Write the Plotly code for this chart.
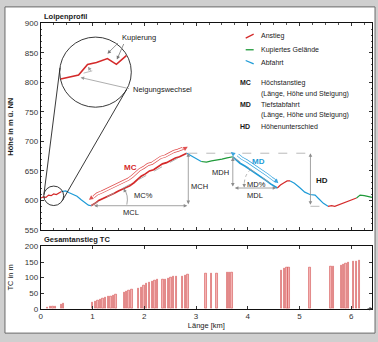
import plotly.graph_objects as go

W, H = 378, 342
FONT = "Liberation Sans, Arial, sans-serif"

# ---------------- data ----------------
profile_km = [0.00, 0.05, 0.10, 0.15, 0.20, 0.25, 0.30, 0.35, 0.40, 0.48, 0.55, 0.62, 0.70, 0.78,
              0.85, 0.92, 0.97, 1.05, 1.12, 1.20, 1.27, 1.35, 1.42, 1.50, 1.58, 1.65, 1.72, 1.80,
              1.87, 1.94, 2.02, 2.10, 2.18, 2.27, 2.35, 2.43, 2.52, 2.60, 2.68, 2.77, 2.82, 2.90,
              2.97, 3.05, 3.10, 3.20, 3.30, 3.40, 3.50, 3.60, 3.71, 3.78, 3.85, 3.95, 4.05, 4.15,
              4.25, 4.35, 4.44, 4.52, 4.57, 4.63, 4.70, 4.76, 4.82, 4.90, 5.00, 5.10, 5.20, 5.30,
              5.38, 5.46, 5.55, 5.62, 5.68, 5.74, 5.80, 5.87, 5.95, 6.02, 6.10, 6.17, 6.25, 6.32,
              6.40]
profile_m = [604, 606, 605, 609, 608, 611, 610, 613, 615, 616, 613, 610, 607, 601,
             596, 592, 591, 595, 600, 603, 606, 610, 612, 616, 619, 622, 625, 630,
             636, 641, 645, 650, 652, 657, 662, 664, 669, 672, 674, 677, 680, 676,
             672, 668, 666, 665, 667, 668, 670, 672, 674, 668, 663, 658, 652, 647,
             641, 634, 628, 623, 621, 626, 630, 633, 633, 629, 622, 614, 610, 609,
             602, 595, 590, 591, 590, 592, 595, 597, 600, 601, 604, 609, 608, 606,
             605]
seg_start_km = [0.0, 0.40, 0.97, 2.82, 3.10, 3.71, 4.57, 4.82, 5.55, 6.10]
seg_type = ["Anstieg", "Abfahrt", "Anstieg", "Abfahrt", "Kupiert",
            "Abfahrt", "Anstieg", "Abfahrt", "Anstieg", "Kupiert"]

tc_km = [0.12, 0.18, 0.23, 0.28, 0.39, 0.44,
         1.00, 1.05, 1.10, 1.15, 1.20, 1.25, 1.30, 1.35, 1.40, 1.45,
         1.61, 1.65, 1.70, 1.76,
         1.89, 1.94, 1.99, 2.04, 2.10, 2.15, 2.20, 2.25,
         2.36, 2.41, 2.46, 2.51, 2.56, 2.62,
         2.74, 2.79, 2.84,
         3.19, 3.30, 3.40,
         3.60, 3.64, 3.69,
         4.65, 4.70, 4.75, 4.79,
         5.20,
         5.60, 5.65,
         5.80, 5.85, 5.89, 5.94,
         6.04, 6.09, 6.15]
tc_m = [4, 6, 8, 9, 14, 16,
        19, 23, 26, 29, 32, 35, 38, 41, 44, 46,
        52, 55, 58, 61,
        64, 70, 76, 80, 84, 88, 91, 93,
        93, 95, 98, 101, 103, 105,
        105, 108, 111,
        113, 113, 114,
        115, 116, 118,
        124, 129, 132, 134,
        134,
        136, 137,
        140, 142, 145, 148,
        151, 152, 156]

# magnified inset (pixel units of the picture)
inset_x = [59, 77, 86, 95, 106, 115, 125]
inset_y = [77, 73, 62, 60, 56, 62, 53]

COL = {"Anstieg": "#d42a2a", "Kupiert": "#1f9a3a", "Abfahrt": "#1e9bd7"}
GRAY = "#8c8c8c"
TXT = "#1a1a1a"

fig = go.Figure()

# ---------------- profile ----------------
for i, (s, t) in enumerate(zip(seg_start_km, seg_type)):
    e = seg_start_km[i + 1] if i + 1 < len(seg_start_km) else 6.4
    xs = [k for k in profile_km if s - 1e-9 <= k <= e + 1e-9]
    ys = [profile_m[profile_km.index(k)] for k in xs]
    w = 1.7 if i in (2, 5) else 1.2
    fig.add_trace(go.Scatter(x=xs, y=ys, mode="lines", line=dict(color=COL[t], width=w),
                             xaxis="x", yaxis="y", showlegend=False, hoverinfo="skip"))

# MC band (outline arrow) following the climb
mc_x = [k for k in profile_km if 1.0 <= k <= 2.78]
mc_y = [profile_m[profile_km.index(k)] for k in mc_x]
bx = [k - 0.03 for k in mc_x]
by = [m + 11 for m in mc_y]
fig.add_trace(go.Scatter(x=bx, y=by, mode="lines", line=dict(color="#e05050", width=3.0),
                         showlegend=False, hoverinfo="skip"))
fig.add_trace(go.Scatter(x=bx, y=by, mode="lines", line=dict(color="white", width=1.7),
                         showlegend=False, hoverinfo="skip"))
# MD band
md_x = [k for k in profile_km if 3.75 <= k <= 4.52]
md_y = [profile_m[profile_km.index(k)] for k in md_x]
dx = [k + 0.03 for k in md_x]
dy = [m + 9 for m in md_y]
fig.add_trace(go.Scatter(x=dx, y=dy, mode="lines", line=dict(color="#3aa6e0", width=3.0),
                         showlegend=False, hoverinfo="skip"))
fig.add_trace(go.Scatter(x=dx, y=dy, mode="lines", line=dict(color="white", width=1.7),
                         showlegend=False, hoverinfo="skip"))

# ---------------- TC bars ----------------
fig.add_trace(go.Bar(x=tc_km, y=tc_m, width=0.026, xaxis="x2", yaxis="y2",
                     marker=dict(color="#f6b4b4", line=dict(color="#cc3a3a", width=0.5)),
                     showlegend=False, hoverinfo="skip"))

# ---------------- helpers ----------------
def px(x, y):
    return x / W, 1 - y / H

def line_px(x0, y0, x1, y1, color, width=1.0, dash="solid"):
    a, b = px(x0, y0)
    c, d = px(x1, y1)
    fig.add_shape(type="line", xref="paper", yref="paper", x0=a, y0=b, x1=c, y1=d,
                  line=dict(color=color, width=width, dash=dash))

def arrow_px(x0, y0, x1, y1, color, both=False, head=2, width=0.8, size=1.0):
    a, b = px(x1, y1)
    fig.add_annotation(xref="paper", yref="paper", x=a, y=b, axref="pixel", ayref="pixel",
                       ax=x0 - x1, ay=y0 - y1, text="", showarrow=True, arrowhead=head,
                       arrowside="end+start" if both else "end", arrowwidth=width,
                       arrowsize=size, arrowcolor=color, standoff=0, startstandoff=0)

def arrow_d(x0, y0, x1, y1, color, both=False, head=2, width=0.8, size=1.0):
    fig.add_annotation(xref="x", yref="y", x=x1, y=y1, axref="x", ayref="y", ax=x0, ay=y0,
                       text="", showarrow=True, arrowhead=head,
                       arrowside="end+start" if both else "end", arrowwidth=width,
                       arrowsize=size, arrowcolor=color, standoff=0, startstandoff=0)

def line_d(x0, y0, x1, y1, color, width=0.8, dash="dash"):
    fig.add_shape(type="line", xref="x", yref="y", x0=x0, y0=y0, x1=x1, y1=y1,
                  line=dict(color=color, width=width, dash=dash))

def text_px(x, y, s, size=7.5, color=TXT, bold=False, xanchor="center", angle=0):
    a, b = px(x, y)
    fig.add_annotation(xref="paper", yref="paper", x=a, y=b,
                       text=("<b>%s</b>" % s) if bold else s, showarrow=False,
                       font=dict(size=size, color=color, family=FONT),
                       xanchor=xanchor, yanchor="middle", textangle=angle, borderpad=0)

# background card
fig.add_shape(type="rect", xref="paper", yref="paper", x0=3 / W, y0=1 - 338 / H, x1=375 / W,
              y1=1 - 3 / H, line=dict(color="#6a6a6a", width=1), fillcolor="white", layer="below")

# ---------------- dimension annotations ----------------
line_d(0.97, 591, 2.82, 680, "#a0a0a0")
arrow_d(1.0, 591, 2.83, 591, GRAY, both=True, size=0.9)
arrow_d(2.85, 591, 2.85, 680, GRAY, both=True, size=0.9)
line_d(2.85, 680, 5.21, 680, "#a8a8a8")
line_d(3.71, 674, 4.57, 621, "#a0a0a0")
arrow_d(3.71, 621, 3.71, 673, GRAY, both=True, size=0.9)
arrow_d(3.72, 621, 4.55, 621, GRAY, both=True, size=0.9)
arrow_d(5.21, 590, 5.21, 680, GRAY, both=True, size=0.9)
line_d(5.21, 590, 5.55, 590, "#a8a8a8")

# band arrow heads
arrow_d(1.02, 607, 0.93, 601, "#e05050", head=2, width=1.0, size=0.9)
arrow_d(2.72, 685, 2.84, 691, "#e05050", head=2, width=1.0, size=0.9)
arrow_d(3.76, 676, 3.67, 682, "#3aa6e0", head=2, width=1.0, size=0.9)
arrow_d(4.50, 637, 4.59, 629, "#3aa6e0", head=2, width=1.0, size=0.9)

# angle arcs
a0, b0 = px(125.5, 206)
a1, b1 = px(127.5, 196)
a2, b2 = px(122.5, 190)
fig.add_shape(type="path", xref="paper", yref="paper",
              path="M %f,%f Q %f,%f %f,%f" % (a0, b0, a1, b1, a2, b2),
              line=dict(color=GRAY, width=0.8))
arrow_px(124, 193, 122.3, 189.5, GRAY, head=2, size=0.9)
a0, b0 = px(250, 170)
a1, b1 = px(244, 175)
a2, b2 = px(243.5, 185)
fig.add_shape(type="path", xref="paper", yref="paper",
              path="M %f,%f Q %f,%f %f,%f" % (a0, b0, a1, b1, a2, b2),
              line=dict(color="#a0a0a0", width=0.8, dash="dot"))
arrow_px(243.5, 183, 243.5, 188.5, GRAY, head=2, size=0.9)

# labels
text_px(129, 168, "MC", size=8, color=COL["Anstieg"], bold=True)
text_px(142, 197, "MC%", size=7.5)
text_px(130, 214, "MCL", size=7.5)
text_px(199, 187, "MCH", size=7.5)
text_px(258, 162, "MD", size=8, color=COL["Abfahrt"], bold=True)
text_px(220, 173, "MDH", size=7.5)
text_px(256, 185, "MD%", size=7.5)
text_px(254, 197, "MDL", size=7.5)
text_px(322, 181, "HD", size=8, bold=True)

# ---------------- magnifier ----------------
def circle_px(cx, cy, r):
    a, b = px(cx - r, cy + r)
    c, d = px(cx + r, cy - r)
    fig.add_shape(type="circle", xref="paper", yref="paper", x0=a, y0=b, x1=c, y1=d,
                  line=dict(color="#222", width=0.9))

circle_px(94, 70, 36)
circle_px(52, 197, 10)
line_px(60.7, 201.9, 125.3, 87.7, "#222", 0.9)
line_px(42.1, 195.8, 58.3, 65.5, "#222", 0.9)
path = "M " + " L ".join("%f,%f" % px(x, y) for x, y in zip(inset_x, inset_y))
fig.add_shape(type="path", xref="paper", yref="paper", path=path,
              line=dict(color=COL["Anstieg"], width=1.6))
text_px(120, 34, "Kupierung", size=7.5, xanchor="left")
arrow_px(118, 39, 106, 51, "#777", head=2, size=0.9)
arrow_px(123, 40, 115.5, 57, "#777", head=2, size=0.9)
text_px(131, 88, "Neigungswechsel", size=7.5, xanchor="left")
arrow_px(129, 87, 79, 75.5, "#999", head=2, size=0.9)
line_px(82, 71, 97, 67, "#aaa", 0.8, "dash")
arrow_px(90, 70, 86.5, 64.5, "#999", head=2, size=0.9)

# ---------------- legend ----------------
line_px(245, 35, 253, 31, COL["Anstieg"], 1.3)
line_px(245, 47, 253, 47, COL["Kupiert"], 1.3)
line_px(245, 58, 253, 61.5, COL["Abfahrt"], 1.3)
text_px(259, 33, "Anstieg", size=7, xanchor="left")
text_px(259, 47, "Kupiertes Gelände", size=7, xanchor="left")
text_px(259, 60, "Abfahrt", size=7, xanchor="left")
text_px(238, 81, "MC", size=7, bold=True, xanchor="left")
text_px(259, 81, "Höchstanstieg", size=7, xanchor="left")
text_px(259, 92, "(Länge, Höhe und Steigung)", size=7, xanchor="left")
text_px(238, 103.5, "MD", size=7, bold=True, xanchor="left")
text_px(259, 103.5, "Tiefstabfahrt", size=7, xanchor="left")
text_px(259, 114.5, "(Länge, Höhe und Steigung)", size=7, xanchor="left")
text_px(238, 125.5, "HD", size=7, bold=True, xanchor="left")
text_px(259, 125.5, "Höhenunterschied", size=7, xanchor="left")

# titles
text_px(41, 13, "Loipenprofil", size=7.5, bold=True, xanchor="left")
text_px(41, 242, "Gesamtanstieg TC", size=7.5, bold=True, xanchor="left")
text_px(9, 126, "Höhe in m ü. NN", size=7.5, bold=True, angle=-90)
text_px(9, 281, "TC in m", size=7.5, angle=-90)
arrow_px(366, 313, 373, 313, "#333", head=2, width=0.8, size=0.9)

# ---------------- axes ----------------
xd = [39 / W, 372 / W]
common = dict(showline=True, linecolor="#111", linewidth=1, mirror="ticks", ticks="inside",
              ticklen=3, tickcolor="#333", tickwidth=0.7, showgrid=False, zeroline=False,
              tickfont=dict(family=FONT, size=8, color="#333"))
fig.update_layout(
    width=W, height=H, margin=dict(l=0, r=0, t=0, b=0),
    paper_bgcolor="#cfcfcf", plot_bgcolor="white", bargap=0,
    xaxis=dict(domain=xd, range=[0, 6.4], anchor="y", dtick=1, tick0=0, showticklabels=False,
               minor=dict(ticks="inside", ticklen=1.5, dtick=0.25, tickcolor="#555"), **common),
    yaxis=dict(domain=[1 - 232 / H, 1 - 20 / H], range=[550, 900], anchor="x", dtick=50,
               minor=dict(ticks="inside", ticklen=1.5, dtick=10, tickcolor="#555"), **common),
    xaxis2=dict(domain=xd, range=[0, 6.4], anchor="y2", dtick=1, tick0=0,
                title=dict(text="Länge [km]", font=dict(family=FONT, size=7.5, color=TXT),
                           standoff=2), **common),
    yaxis2=dict(domain=[1 - 313 / H, 1 - 249 / H], range=[0, 200], anchor="x2", dtick=50,
                **common),
)

fig.write_html("out.html")
